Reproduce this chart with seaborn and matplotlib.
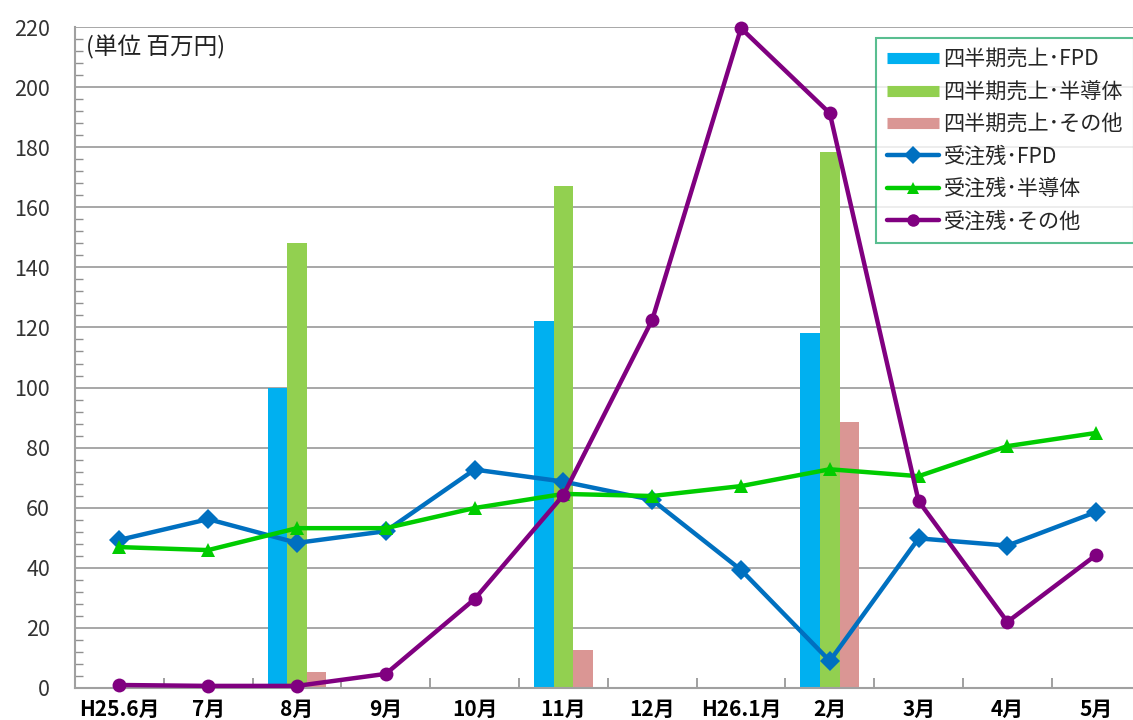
import numpy as np
import pandas as pd
import matplotlib
matplotlib.use("Agg")
import matplotlib.pyplot as plt
import seaborn as sns
from matplotlib.lines import Line2D
from matplotlib.ticker import MultipleLocator

# データ
months = ["H25.6月", "7月", "8月", "9月", "10月", "11月", "12月",
          "H26.1月", "2月", "3月", "4月", "5月"]

# 四半期売上 (8月, 11月, 2月のみ)
bar_months = ["8月", "11月", "2月"]
sales_fpd = [100, 122, 118]
sales_semi = [148, 167, 178.5]
sales_other = [5.3, 12.5, 88.5]

# 受注残
backlog_fpd = [49.3, 56.2, 48.3, 52.2, 72.7, 68.7, 62.6, 39.3, 9.0, 49.8, 47.4, 58.6]
backlog_semi = [46.9, 45.9, 53.2, 53.2, 59.9, 64.6, 63.9, 67.2, 72.8, 70.5, 80.5, 84.9]
backlog_other = [1.0, 0.7, 0.7, 4.7, 29.6, 64.2, 122.5, 219.6, 191.3, 62.2, 22.0, 44.3]

bar_names = ["四半期売上･FPD", "四半期売上･半導体", "四半期売上･その他"]
line_names = ["受注残･FPD", "受注残･半導体", "受注残･その他"]
bar_colors = ["#00b0f0", "#92d050", "#da9694"]
line_colors = ["#0070c0", "#00cc00", "#800080"]
line_markers = ["D", "^", "o"]

bars_df = pd.DataFrame({
    "month": bar_months * 3,
    "value": sales_fpd + sales_semi + sales_other,
    "series": [n for n in bar_names for _ in bar_months],
})
lines_df = pd.DataFrame({
    "x": list(range(len(months))) * 3,
    "value": backlog_fpd + backlog_semi + backlog_other,
    "series": [n for n in line_names for _ in months],
})

sns.set_theme(style="white")
plt.rcParams["font.family"] = ["Noto Sans CJK JP", "DejaVu Sans"]

fig = plt.figure(figsize=(11.33, 7.2), dpi=100)
ax = fig.add_axes([75 / 1133, 32 / 720, 1058 / 1133, 661 / 720])

# 棒グラフ
sns.barplot(data=bars_df, x="month", y="value", hue="series", order=months,
            hue_order=bar_names, palette=bar_colors, width=0.66,
            saturation=1, linewidth=0, legend=False, ax=ax, zorder=2)

# 折れ線
sns.lineplot(data=lines_df, x="x", y="value", hue="series", style="series",
             hue_order=line_names, palette=line_colors,
             markers=dict(zip(line_names, line_markers)), dashes=False,
             linewidth=3.2, markersize=10, markeredgewidth=0,
             legend=False, ax=ax, zorder=4)
for ln in ax.lines:
    ln.set_clip_on(False)

ax.set_xlim(-0.5, -0.5 + 1058 / 88.8)
ax.set_ylim(0, 220)
ax.set_xlabel("")
ax.set_ylabel("")

# 目盛り
ax.set_xticks(range(len(months)))
ax.set_xticklabels(months, fontsize=15, fontweight="bold", color="black")
ax.set_xticks(np.arange(0.5, len(months) - 0.5, 1), minor=True)
ax.tick_params(axis="x", which="major", length=0, pad=8)
ax.tick_params(axis="x", which="minor", direction="in", length=7,
               width=1.2, color="#909090", bottom=True)

ax.yaxis.set_major_locator(MultipleLocator(20))
ax.yaxis.set_minor_locator(MultipleLocator(4))
ax.tick_params(axis="y", which="major", length=0, pad=18, labelsize=15.5,
               labelcolor="#333333")
ax.tick_params(axis="y", which="minor", direction="in", length=6,
               width=1.0, color="#909090", left=True)

ax.grid(axis="y", color="#a0a0a0", linewidth=1.3, zorder=0)
ax.set_axisbelow(True)
for side in ["top", "right"]:
    ax.spines[side].set_visible(False)
for side in ["left", "bottom"]:
    ax.spines[side].set_color("#a0a0a0")
    ax.spines[side].set_linewidth(1.5)

ax.text(0.01, 0.988, "(単位 百万円)", transform=ax.transAxes,
        fontsize=17, va="top", ha="left", color="#222222")

# 凡例 (右端に収まるように)
handles = [Line2D([], [], color=c, linewidth=8, solid_capstyle="butt")
           for c in bar_colors]
handles += [Line2D([], [], color=c, marker=m, linewidth=3.2, markersize=9,
                   markeredgewidth=0)
            for c, m in zip(line_colors, line_markers)]
leg = fig.legend(handles, bar_names + line_names, loc="upper left",
                 bbox_to_anchor=(876 / 1133, 1 - 38 / 720), fontsize=15.2,
                 frameon=True, fancybox=False, handlelength=2.5,
                 handletextpad=0.2, labelspacing=0.49, borderpad=0.5,
                 borderaxespad=0)
leg.get_frame().set_edgecolor("#2fae74")
leg.get_frame().set_linewidth(1.5)

plt.savefig("out.png", dpi=100)
